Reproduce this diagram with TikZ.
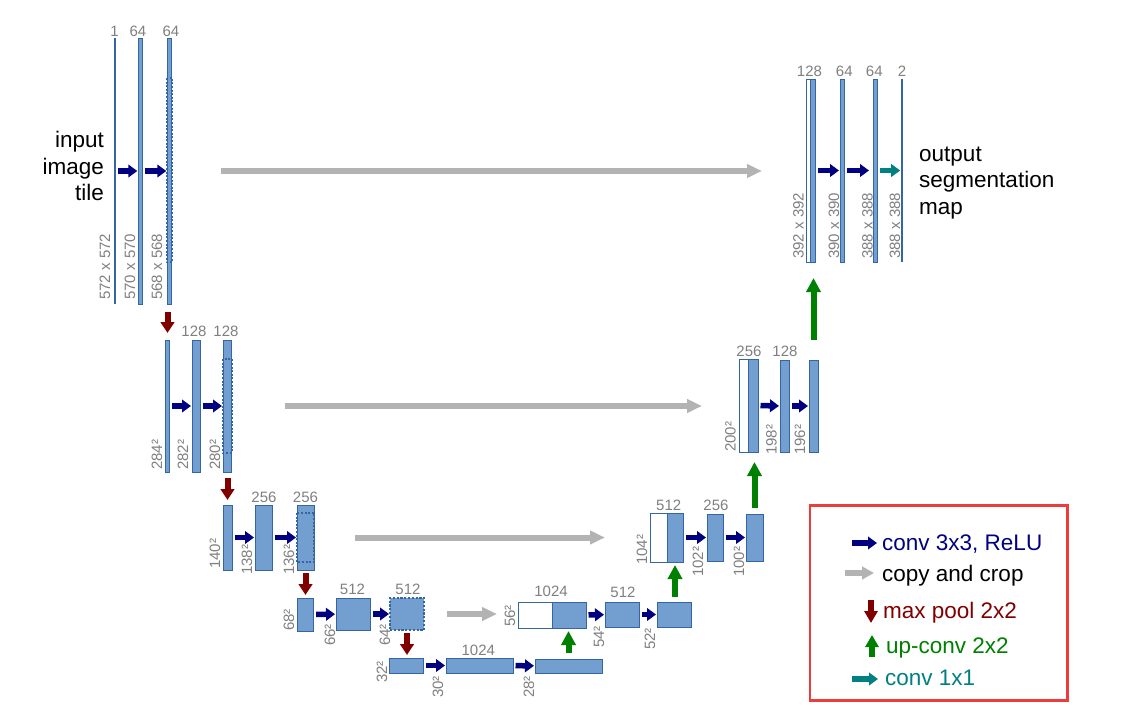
\documentclass[tikz,border=0pt]{standalone}
\usepackage{fontspec}
\setmainfont{Liberation Sans}
\usetikzlibrary{arrows.meta,calc}
\definecolor{barfill}{HTML}{729FCF}
\definecolor{barline}{HTML}{3465A4}
\definecolor{labgray}{HTML}{808080}
\definecolor{copygray}{HTML}{B3B3B3}
\definecolor{convblue}{HTML}{000080}
\definecolor{poolred}{HTML}{800000}
\definecolor{upgreen}{HTML}{008000}
\definecolor{convteal}{HTML}{008080}
\definecolor{legred}{HTML}{EE3B3B}
\newcommand{\ublock}[6]{\node[#2, minimum width=#5pt, minimum height=#6pt] (#1) at (#3,#4) {};}
\begin{document}
\begin{tikzpicture}[x=1pt,y=-1pt,
  bar/.style={draw=barline, fill=barfill, line width=0.8pt, inner sep=0pt, outer sep=0pt, anchor=north west},
  wbar/.style={bar, fill=white},
  thinbar/.style={fill=barline, draw=none, inner sep=0pt, outer sep=0pt, anchor=north west},
  crop/.style={draw=barline, line width=1.8pt, dash pattern=on 2pt off 1.6pt},
  cropbar/.style={bar, line width=1.5pt, dash pattern=on 2.2pt off 1.6pt},
  chan/.style={text=labgray, inner sep=0pt, anchor=base, font=\fontsize{15}{18}\selectfont},
  dim/.style={text=labgray, inner sep=0pt, anchor=west, rotate=90, font=\fontsize{15}{18}\selectfont},
  conv/.style={draw=convblue, line width=5.5pt, -{Triangle[length=9pt,width=12.5pt]}, shorten <=2.5pt, shorten >=1pt},
  convone/.style={conv, draw=convteal},
  copyarrow/.style={draw=copygray, line width=6pt, -{Triangle[length=15pt,width=13pt]}},
  pool/.style={draw=poolred, line width=6pt, -{Triangle[length=11pt,width=13.5pt]}},
  upconv/.style={draw=upgreen, line width=6pt, -{Triangle[length=14pt,width=14pt]}},
  bigtext/.style={inner sep=0pt, font=\fontsize{22.5}{26.5}\selectfont},
  legtext/.style={inner sep=0pt, anchor=base west, font=\fontsize{22.5}{26.5}\selectfont}
]
\useasboundingbox[fill=white] (0,0) rectangle (1127,717);

% ---------- level 1 (down) ----------
\ublock{a1}{thinbar}{113.9}{38}{1.7}{266}
\ublock{a2}{bar}{138.3}{38}{4.4}{266}
\ublock{a3}{bar}{167.3}{38}{4.4}{266}
\draw[crop] (166.7,78) rectangle (172.3,262);
\node[chan] (a1n) at (114.5,36.5) {1};
\node[chan] (a2n) at (138,36.5) {64};
\node[chan] (a3n) at (171,36.5) {64};
\node[dim] (a1d) at (105,300) {572 x 572};
\node[dim] (a2d) at (130,300) {570 x 570};
\node[dim] (a3d) at (157,300) {568 x 568};
\node[bigtext, align=right, anchor=east] (inp) at (104,166) {input\\image\\tile};

% ---------- level 2 (down) ----------
\ublock{b1}{bar}{165.3}{340}{4.4}{132}
\ublock{b2}{bar}{192}{340}{8.7}{132}
\ublock{b3}{bar}{223}{340}{8.3}{132}
\draw[crop] (222.8,359) rectangle (231.6,453);
\node[chan] (b2n) at (194,336.5) {128};
\node[chan] (b3n) at (226,336.5) {128};
\node[dim] (b1d) at (157,470) {284²};
\node[dim] (b2d) at (183,470) {282²};
\node[dim] (b3d) at (215,470) {280²};

% ---------- level 3 (down) ----------
\ublock{c1}{bar}{223}{505}{9}{65}
\ublock{c2}{bar}{255}{505}{17}{65}
\ublock{c3}{bar}{297}{505}{17}{65}
\draw[crop] (297,513) rectangle (314,562);
\node[chan] (c2n) at (264,502.3) {256};
\node[chan] (c3n) at (305.5,502.3) {256};
\node[dim] (c1d) at (215,569) {140²};
\node[dim] (c2d) at (247,575) {138²};
\node[dim] (c3d) at (289,575) {136²};

% ---------- level 4 (down) ----------
\ublock{d1}{bar}{297.3}{598}{16.4}{33}
\ublock{d2}{bar}{336}{598}{34}{32}
\ublock{d3}{cropbar}{390}{598}{34}{32}
\node[chan] (d2n) at (352.5,594) {512};
\node[chan] (d3n) at (408,594) {512};
\node[dim] (d1d) at (289,631) {68²};
\node[dim] (d2d) at (330,646) {66²};
\node[dim] (d3d) at (385,646) {64²};

% ---------- level 5 (bottom) ----------
\ublock{e1}{bar}{389}{658}{34}{15}
\ublock{e2}{bar}{446}{658}{67}{15}
\ublock{e3}{bar}{535}{659}{67}{14}
\node[chan] (e2n) at (478.3,655) {1024};
\node[dim] (e1d) at (382,683) {32²};
\node[dim] (e2d) at (438,698) {30²};
\node[dim] (e3d) at (529,698) {28²};

% ---------- level 4 (up) ----------
\ublock{f0}{wbar}{518}{602}{34}{26}
\ublock{f1}{bar}{552}{602}{34}{26}
\ublock{f2}{bar}{605}{602}{34}{25}
\ublock{f3}{bar}{657}{602}{34}{25}
\node[chan] (f1n) at (551,596.7) {1024};
\node[chan] (f2n) at (623,597.3) {512};
\node[dim] (f0d) at (510,627) {56²};
\node[dim] (f2d) at (599,648) {54²};
\node[dim] (f3d) at (650,650) {52²};

% ---------- level 3 (up) ----------
\ublock{g0}{wbar}{650}{513}{17}{49}
\ublock{g1}{bar}{667}{513}{16}{49}
\ublock{g2}{bar}{707}{514}{16}{47}
\ublock{g3}{bar}{746}{514}{17}{47}
\node[chan] (g1n) at (668.7,510.7) {512};
\node[chan] (g2n) at (716,510.7) {256};
\node[dim] (g0d) at (642,565) {104²};
\node[dim] (g2d) at (698,577) {102²};
\node[dim] (g3d) at (739,577) {100²};

% ---------- level 2 (up) ----------
\ublock{h0}{wbar}{739}{359}{9}{93}
\ublock{h1}{bar}{748}{359}{10}{93}
\ublock{h2}{bar}{780}{360}{9}{92}
\ublock{h3}{bar}{809}{360}{9}{92}
\node[chan] (h1n) at (749,356) {256};
\node[chan] (h2n) at (785,356) {128};
\node[dim] (h0d) at (730.5,452) {200²};
\node[dim] (h2d) at (771.5,455) {198²};
\node[dim] (h3d) at (800,455) {196²};

% ---------- level 1 (up) ----------
\ublock{k0}{wbar}{806}{79}{4}{183}
\ublock{k1}{bar}{810}{79}{5.3}{183}
\ublock{k2}{bar}{840}{79}{4}{183}
\ublock{k3}{bar}{873}{79}{4}{183}
\ublock{k4}{thinbar}{901.2}{79}{1.7}{183}
\node[chan] (k1n) at (809.5,76.7) {128};
\node[chan] (k2n) at (844.3,76.7) {64};
\node[chan] (k3n) at (874.3,76.7) {64};
\node[chan] (k4n) at (902,76.7) {2};
\node[dim] (k0d) at (798.5,259) {392 x 392};
\node[dim] (k2d) at (834,259) {390 x 390};
\node[dim] (k3d) at (867.5,259) {388 x 388};
\node[dim] (k4d) at (895,259) {388 x 388};
\node[bigtext, align=left, anchor=west] (outp) at (919,183) {output\\segmentation\\map};

% ---------- conv 3x3 arrows ----------
\draw[conv] (a1) -- (a2);
\draw[conv] (a2) -- (a3);
\draw[conv] (b1) -- (b2);
\draw[conv] (b2) -- (b3);
\draw[conv] (c1) -- (c2);
\draw[conv] (c2) -- (c3);
\draw[conv] (d1) -- (d2);
\draw[conv] (d2) -- (d3);
\draw[conv] (e1) -- (e2);
\draw[conv] (e2) -- (e3);
\draw[conv] (f1) -- (f2);
\draw[conv] (f2) -- (f3);
\draw[conv] (g1) -- (g2);
\draw[conv] (g2) -- (g3);
\draw[conv] (h1) -- (h2);
\draw[conv] (h2) -- (h3);
\draw[conv] (k1) -- (k2);
\draw[conv, shorten >=4pt] (k2) -- (k3);
\draw[convone] (k3) -- (k4);

% ---------- copy and crop (kept exactly horizontal) ----------
\draw[copyarrow, shorten <=49pt, shorten >=44pt] (a3.east) -- (a3.east -| k0.west);
\draw[copyarrow, shorten <=53.5pt, shorten >=37pt] (b3.east) -- (b3.east -| h0.west);
\draw[copyarrow, shorten <=41pt, shorten >=45pt] (c3.east) -- (c3.east -| g0.west);
\draw[copyarrow, shorten <=23pt, shorten >=21pt] (d3.east) -- (d3.east -| f0.west);

% ---------- max pool ----------
\draw[pool, shorten <=8pt, shorten >=7pt] (a3.south -| b1) -- (b1.north);
\draw[pool, shorten <=6pt, shorten >=5pt] (b3.south -| c1) -- (c1.north);
\draw[pool, shorten <=3pt, shorten >=3pt] (c3.south -| d1) -- (d1.north);
\draw[pool, shorten <=3pt, shorten >=3pt] (d3.south) -- (d3.south |- e1.north);

% ---------- up-conv ----------
\draw[upconv, shorten <=6pt, shorten >=3pt] (e3.north) -- (e3.north |- f1.south);
\draw[upconv, shorten <=5pt, shorten >=3pt] (f3.north -| g1) -- (g1.south);
\draw[upconv, shorten <=6pt, shorten >=10pt] (g3.north) -- (g3.north |- h1.south);
\draw[upconv, shorten <=20pt, shorten >=16pt] (h3.north) -- (h3.north |- k1.south);

% ---------- legend ----------
\node[draw=legred, line width=2.7pt, inner sep=0pt, anchor=north west, minimum width=257.7pt, minimum height=195pt] (legend) at (808.7,504.2) {};
\node[legtext, text=convblue] (t1) at (882,550) {conv 3x3, ReLU};
\node[legtext, text=black] (t2) at (882,581) {copy and crop};
\node[legtext, text=poolred] (t3) at (883,618) {max pool 2x2};
\node[legtext, text=upgreen] (t4) at (886,653) {up-conv 2x2};
\node[legtext, text=convteal] (t5) at (885,685) {conv 1x1};
\coordinate (l1s) at (852,543); \coordinate (l1e) at (877,543);
\coordinate (l2s) at (845,573); \coordinate (l2e) at (874,573);
\coordinate (l3s) at (871,600); \coordinate (l3e) at (871,623);
\coordinate (l4s) at (872,657); \coordinate (l4e) at (872,635);
\coordinate (l5s) at (852,679); \coordinate (l5e) at (878,679);
\draw[conv, shorten <=0pt, shorten >=0pt] (l1s) -- (l1e);
\draw[copyarrow, line width=5.5pt, -{Triangle[length=12pt,width=12.5pt]}] (l2s) -- (l2e);
\draw[pool, line width=5.5pt, -{Triangle[length=12pt,width=13pt]}] (l3s) -- (l3e);
\draw[upconv, line width=5.5pt, -{Triangle[length=12pt,width=13pt]}] (l4s) -- (l4e);
\draw[convone, shorten <=0pt, shorten >=0pt] (l5s) -- (l5e);
\end{tikzpicture}
\end{document}
